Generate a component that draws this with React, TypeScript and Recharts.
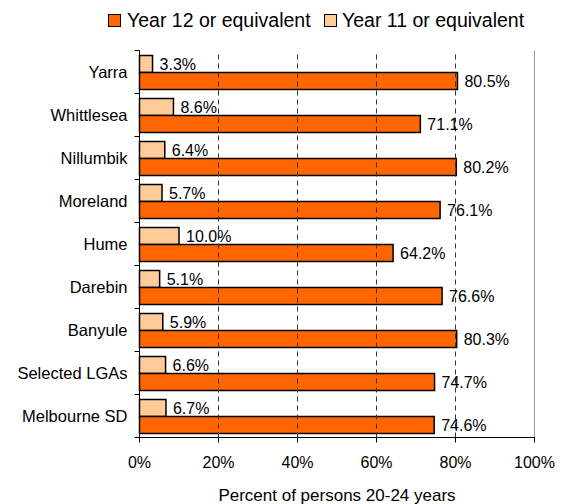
import React from "react";
import {
  BarChart,
  Bar,
  XAxis,
  YAxis,
  ReferenceLine,
  LabelList,
} from "recharts";

const areas = [
  "Yarra",
  "Whittlesea",
  "Nillumbik",
  "Moreland",
  "Hume",
  "Darebin",
  "Banyule",
  "Selected LGAs",
  "Melbourne SD",
];
const year12 = [80.5, 71.1, 80.2, 76.1, 64.2, 76.6, 80.3, 74.7, 74.6];
const year11 = [3.3, 8.6, 6.4, 5.7, 10.0, 5.1, 5.9, 6.6, 6.7];
const xTicks = [0, 20, 40, 60, 80, 100];
const gridValues = [20, 40, 60, 80];

const data = areas.map((name, i) => ({
  name,
  year12: year12[i],
  year11: year11[i],
}));

const WIDTH = 562;
const HEIGHT = 504;
const MARGIN = { top: 50.5, right: 27.5, bottom: 0, left: 0 };
const X_AXIS_HEIGHT = 66.5;
const Y_AXIS_WIDTH = 139.5;
const BAND =
  (HEIGHT - MARGIN.top - MARGIN.bottom - X_AXIS_HEIGHT) / areas.length;

const FONT = "'Liberation Sans', Arial, sans-serif";
const DARK = "#FF6600";
const LIGHT = "#FFCC99";

// category label plus a tick mark on the boundary between bands
const CategoryTick = (props: any) => {
  const { x, y, payload, index } = props;
  const half = BAND / 2;
  return (
    <g>
      <line x1={x - 5} x2={x} y1={y - half} y2={y - half} stroke="#000" />
      {index === areas.length - 1 && (
        <line x1={x - 5} x2={x} y1={y + half} y2={y + half} stroke="#000" />
      )}
      <text
        x={x - 12}
        y={y}
        dy="0.35em"
        textAnchor="end"
        fontSize={16.5}
        fontFamily={FONT}
        fill="#000"
      >
        {payload.value}
      </text>
    </g>
  );
};

const pct = (v: any) => `${Number(v).toFixed(1)}%`;

const App: React.FC = () => {
  return (
    <div
      style={{
        position: "absolute",
        left: 0,
        top: 0,
        width: WIDTH,
        height: HEIGHT,
        background: "#fff",
        fontFamily: FONT,
      }}
    >
      <svg
        width={WIDTH}
        height={40}
        style={{ position: "absolute", left: 0, top: 0 }}
      >
        <rect x={108.5} y={14.5} width={12} height={12} fill={DARK} stroke="#000" />
        <text x={127} y={27} fontSize={19.5} fontFamily={FONT} fill="#000">
          Year 12 or equivalent
        </text>
        <rect x={324.5} y={14.5} width={12} height={12} fill={LIGHT} stroke="#000" />
        <text x={342} y={27} fontSize={19.5} fontFamily={FONT} fill="#000">
          Year 11 or equivalent
        </text>
      </svg>
      <BarChart
        width={WIDTH}
        height={HEIGHT}
        data={data}
        layout="vertical"
        margin={MARGIN}
        barCategoryGap={5}
        barGap={0}
      >
        {gridValues.map((v) => (
          <ReferenceLine
            key={v}
            x={v}
            stroke="#333"
            strokeDasharray="5 4"
          />
        ))}
        <ReferenceLine x={100} stroke="#999" />
        <XAxis
          type="number"
          domain={[0, 100]}
          ticks={xTicks}
          tickFormatter={(v) => `${v}%`}
          height={X_AXIS_HEIGHT}
          tickSize={5}
          tickMargin={14}
          axisLine={{ stroke: "#000" }}
          tickLine={{ stroke: "#000" }}
          tick={{ fontSize: 16, fill: "#000", fontFamily: FONT }}
          label={{
            value: "Percent of persons 20-24 years",
            position: "insideBottom",
            offset: 3,
            fontSize: 17,
            fill: "#000",
            fontFamily: FONT,
          }}
        />
        <YAxis
          type="category"
          dataKey="name"
          width={Y_AXIS_WIDTH}
          axisLine={{ stroke: "#000" }}
          tickLine={false}
          tickSize={0}
          tickMargin={0}
          interval={0}
          tick={<CategoryTick />}
        />
        <Bar
          dataKey="year11"
          fill={LIGHT}
          stroke="#000"
          strokeWidth={1.5}
          isAnimationActive={false}
        >
          <LabelList
            dataKey="year11"
            position="right"
            offset={7}
            formatter={pct}
            fill="#000"
            fontSize={16}
            fontFamily={FONT}
          />
        </Bar>
        <Bar
          dataKey="year12"
          fill={DARK}
          stroke="#000"
          strokeWidth={1.5}
          isAnimationActive={false}
        >
          <LabelList
            dataKey="year12"
            position="right"
            offset={7}
            formatter={pct}
            fill="#000"
            fontSize={16}
            fontFamily={FONT}
          />
        </Bar>
      </BarChart>
    </div>
  );
};

export default App;
